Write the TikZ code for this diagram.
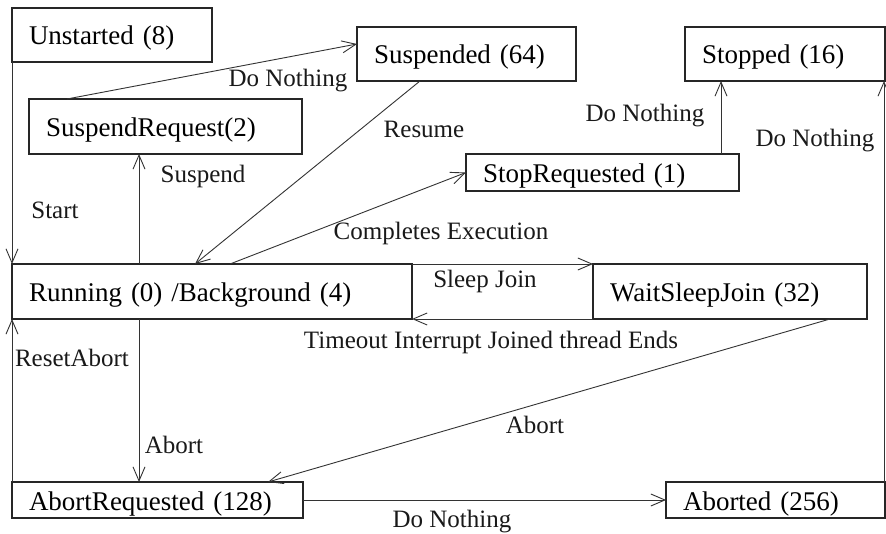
\documentclass[tikz,border=0pt]{standalone}
\usepackage{fontspec}
\setmainfont{Liberation Serif}
\usetikzlibrary{arrows.meta,calc}
\tikzset{
  box/.style={draw=black!85, line width=1.3pt, anchor=north west, inner xsep=17pt, inner ysep=0pt, outer sep=0pt, align=left, text height=20pt, text depth=0pt, font=\fontsize{27}{30}\selectfont},
  conn/.style={draw=black!80, line width=0.9pt, -{Straight Barb[length=14pt,width=12pt,line width=0.9pt]}},
  lbl/.style={font=\fontsize{25}{28}\selectfont, inner sep=0pt, text=black!90},
}
\begin{document}
\begin{tikzpicture}[x=1pt,y=-1pt]
\useasboundingbox[fill=white] (0,0) rectangle (886,534);
% states
\node[box, text width=166pt, minimum height=54pt] (unst) at (12,8) {Unstarted (8)};
\node[box, text width=185pt, minimum height=54pt] (susp) at (357,27) {Suspended (64)};
\node[box, text width=166pt, minimum height=54pt] (stopd) at (685,27) {Stopped (16)};
\node[box, text width=239pt, minimum height=55pt] (sreq) at (29,99) {SuspendRequest(2)};
\node[box, text width=239pt, minimum height=37pt] (streq) at (466,154) {StopRequested (1)};
\node[box, text width=366pt, minimum height=55pt] (run) at (12,264) {Running (0) /Background (4)};
\node[box, text width=240pt, minimum height=55pt] (wsj) at (593,264) {WaitSleepJoin (32)};
\node[box, text width=257pt, minimum height=36pt] (abreq) at (12,482) {AbortRequested (128)};
\node[box, text width=185pt, minimum height=36pt] (abtd) at (666,482) {Aborted (256)};
% connectors
\draw[conn] (unst.south west) -- (run.north west);
\draw[conn] ($(run.north west)+(127,0)$) -- ($(sreq.south west)+(110,0)$);
\draw[conn] ($(sreq.north west)+(38,0)$) -- ($(susp.north west)+(0,17)$);
\draw[conn] ($(susp.south west)+(63,0)$) -- ($(run.north west)+(183,0)$);
\draw[conn] ($(run.north west)+(218,0)$) -- (streq.west);
\draw[conn] ($(streq.north west)+(255,0)$) -- ($(stopd.south west)+(36,0)$);
\draw[conn] ($(abtd.north east)+(-1,0)$) -- ($(stopd.south east)+(-1,0)$);
\draw[conn] (run.north east) -- (wsj.north west);
\draw[conn] (wsj.south west) -- (run.south east);
\draw[conn] ($(run.south west)+(127,0)$) -- ($(abreq.north west)+(127,0)$);
\draw[conn] (abreq.north west) -- (run.south west);
\draw[conn] ($(wsj.south east)+(-37,0)$) -- ($(abreq.north east)+(-35,0)$);
\draw[conn] (abreq.east) -- (abtd.west);
% labels
\node[lbl] (lstart) at (55,210) {Start};
\node[lbl] (lsusp) at (203,176) {Suspend};
\node[lbl] (ldn1) at (288,81) {Do Nothing};
\node[lbl] (lres) at (424,129) {Resume};
\node[lbl] (lce) at (441,233) {Completes Execution};
\node[lbl] (ldn2) at (645,116) {Do Nothing};
\node[lbl] (ldn3) at (815,141) {Do Nothing};
\node[lbl] (lsj) at (485,281) {Sleep Join};
\node[lbl] (lto) at (491,342) {Timeout Interrupt Joined thread Ends};
\node[lbl] (lra) at (72,358) {ResetAbort};
\node[lbl] (lab1) at (174,445) {Abort};
\node[lbl] (lab2) at (535,425) {Abort};
\node[lbl] (ldn4) at (452,522) {Do Nothing};
\end{tikzpicture}
\end{document}
